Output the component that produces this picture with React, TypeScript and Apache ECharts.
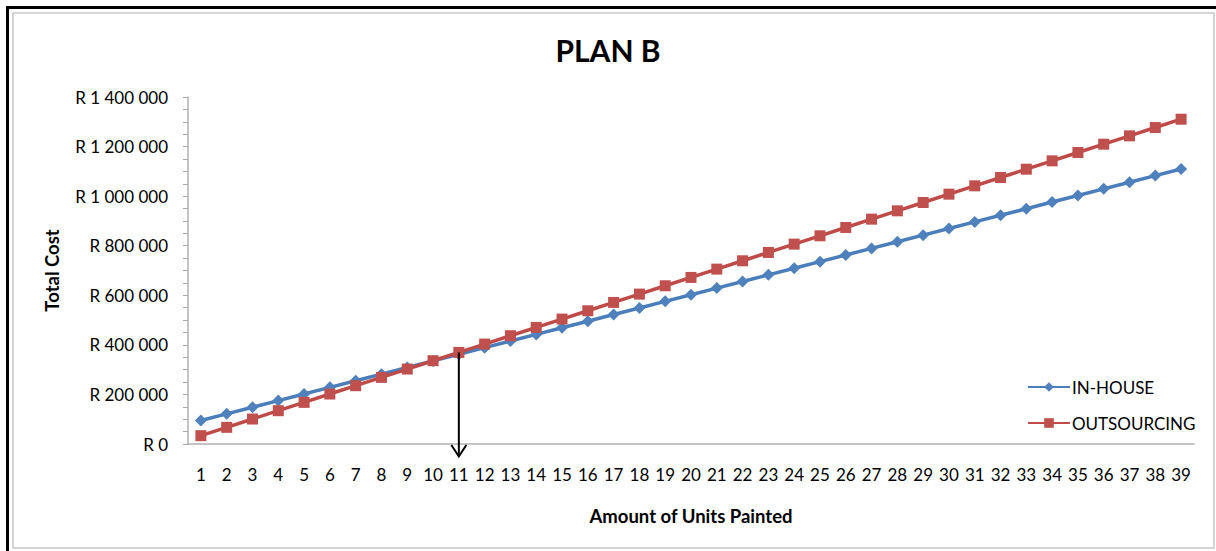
import React, { useEffect, useRef } from 'react';
import * as echarts from 'echarts';

const units = ['1', '2', '3', '4', '5', '6', '7', '8', '9', '10', '11', '12', '13', '14', '15', '16', '17', '18', '19', '20', '21', '22', '23', '24', '25', '26', '27', '28', '29', '30', '31', '32', '33', '34', '35', '36', '37', '38', '39'];

const inHouse = [95000, 121700, 148400, 175100, 201800, 228500, 255200, 281900, 308600, 335300, 362000, 388700, 415400, 442100, 468800, 495500, 522200, 548900, 575600, 602300, 629000, 655700, 682400, 709100, 735800, 762500, 789200, 815900, 842600, 869300, 896000, 922700, 949400, 976100, 1002800, 1029500, 1056200, 1082900, 1109600];

const outsourcing = [33600, 67200, 100800, 134400, 168000, 201600, 235200, 268800, 302400, 336000, 369600, 403200, 436800, 470400, 504000, 537600, 571200, 604800, 638400, 672000, 705600, 739200, 772800, 806400, 840000, 873600, 907200, 940800, 974400, 1008000, 1041600, 1075200, 1108800, 1142400, 1176000, 1209600, 1243200, 1276800, 1310400];

const yTicks = [0, 200000, 400000, 600000, 800000, 1000000, 1200000, 1400000];
const yTickLabels = ['R 0', 'R 200 000', 'R 400 000', 'R 600 000', 'R 800 000', 'R 1 000 000', 'R 1 200 000', 'R 1 400 000'];

const breakEvenIndex = 10; // unit "11"

const FONT = 'Lato, "Open Sans", sans-serif';

export default function App() {
  const ref = useRef<HTMLDivElement>(null);

  useEffect(() => {
    if (!ref.current) return;
    const chart = echarts.init(ref.current, undefined, { renderer: 'svg' });
    chart.setOption({
      animation: false,
      backgroundColor: '#ffffff',
      textStyle: { fontFamily: FONT, color: '#000' },
      title: {
        text: 'PLAN B',
        left: 'center',
        top: 30,
        textStyle: { fontFamily: FONT, fontSize: 30, fontWeight: 'bold', color: '#000' },
      },
      legend: {
        orient: 'vertical',
        left: 1022,
        top: 372,
        itemWidth: 42,
        itemHeight: 12,
        itemGap: 16,
        textStyle: { fontFamily: FONT, fontSize: 17, color: '#000', lineHeight: 20, padding: [0, 0, 0, -3] },
        data: ['IN-HOUSE', 'OUTSOURCING'],
      },
      grid: { left: 188, right: 22, top: 97, bottom: 107 },
      xAxis: {
        type: 'category',
        data: units,
        boundaryGap: true,
        name: 'Amount of Units Painted',
        nameLocation: 'middle',
        nameGap: 62,
        nameTextStyle: { fontFamily: FONT, fontSize: 18.5, fontWeight: 'bold', color: '#000' },
        axisLine: { lineStyle: { color: '#b0b0b0', width: 1.5 } },
        axisTick: { show: false },
        axisLabel: { fontFamily: FONT, fontSize: 17, color: '#000', margin: 22, interval: 0 },
        splitLine: { show: false },
      },
      yAxis: {
        type: 'value',
        min: 0,
        max: 1400000,
        interval: 200000,
        name: 'Total Cost',
        nameLocation: 'middle',
        nameGap: 127,
        nameRotate: 90,
        nameTextStyle: { fontFamily: FONT, fontSize: 18.5, fontWeight: 'bold', color: '#000' },
        axisLine: { show: true, lineStyle: { color: '#b0b0b0', width: 1.5 } },
        axisTick: { show: true, inside: false, length: 5, lineStyle: { color: '#a8a8a8' } },
        minorTick: { show: true, splitNumber: 4, length: 5, lineStyle: { color: '#a8a8a8' } },
        axisLabel: {
          fontFamily: FONT,
          fontSize: 17,
          color: '#000',
          margin: 20,
          formatter: (v: number) => {
            const i = yTicks.indexOf(v);
            return i >= 0 ? yTickLabels[i] : '';
          },
        },
        splitLine: { show: false },
      },
      series: [
        {
          name: 'IN-HOUSE',
          type: 'line',
          data: inHouse,
          symbol: 'diamond',
          symbolSize: 12,
          lineStyle: { color: '#4A7EBB', width: 3.5 },
          itemStyle: { color: '#4F81BD' },
          z: 2,
        },
        {
          name: 'OUTSOURCING',
          type: 'line',
          data: outsourcing,
          symbol: 'rect',
          symbolSize: 11,
          lineStyle: { color: '#BE4B48', width: 3.5 },
          itemStyle: { color: '#C0504D' },
          z: 3,
        },
      ],
    });

    const p = chart.convertToPixel({ xAxisIndex: 0, yAxisIndex: 0 }, [breakEvenIndex, outsourcing[breakEvenIndex]]) as number[];
    const b = chart.convertToPixel({ xAxisIndex: 0, yAxisIndex: 0 }, [breakEvenIndex, 0]) as number[];
    const ax = p[0];
    const tip = b[1] + 12.5;

    chart.setOption({
      graphic: [
        { id: 'outerTop', type: 'rect', shape: { x: 6, y: 6, width: 1300, height: 3 }, style: { fill: '#000' }, silent: true },
        { id: 'outerLeft', type: 'rect', shape: { x: 6, y: 6, width: 3, height: 600 }, style: { fill: '#000' }, silent: true },
        { id: 'inner', type: 'rect', shape: { x: 13, y: 13, width: 1201, height: 535 }, style: { fill: 'none', stroke: '#c8c8c8', lineWidth: 1.5 }, silent: true },
        { id: 'arrowLine', type: 'line', shape: { x1: ax, y1: p[1], x2: ax, y2: tip }, style: { stroke: '#000', lineWidth: 2 }, z: 10, silent: true },
        { id: 'arrowHead', type: 'polyline', shape: { points: [[ax - 7.5, tip - 11.5], [ax, tip], [ax + 7.5, tip - 11.5]] }, style: { stroke: '#000', lineWidth: 2, fill: 'none' }, z: 10, silent: true },
      ],
    });

    return () => chart.dispose();
  }, []);

  return (
    <div
      ref={ref}
      style={{ position: 'fixed', left: 0, top: 0, width: 1216, height: 551, background: '#fff' }}
    />
  );
}
